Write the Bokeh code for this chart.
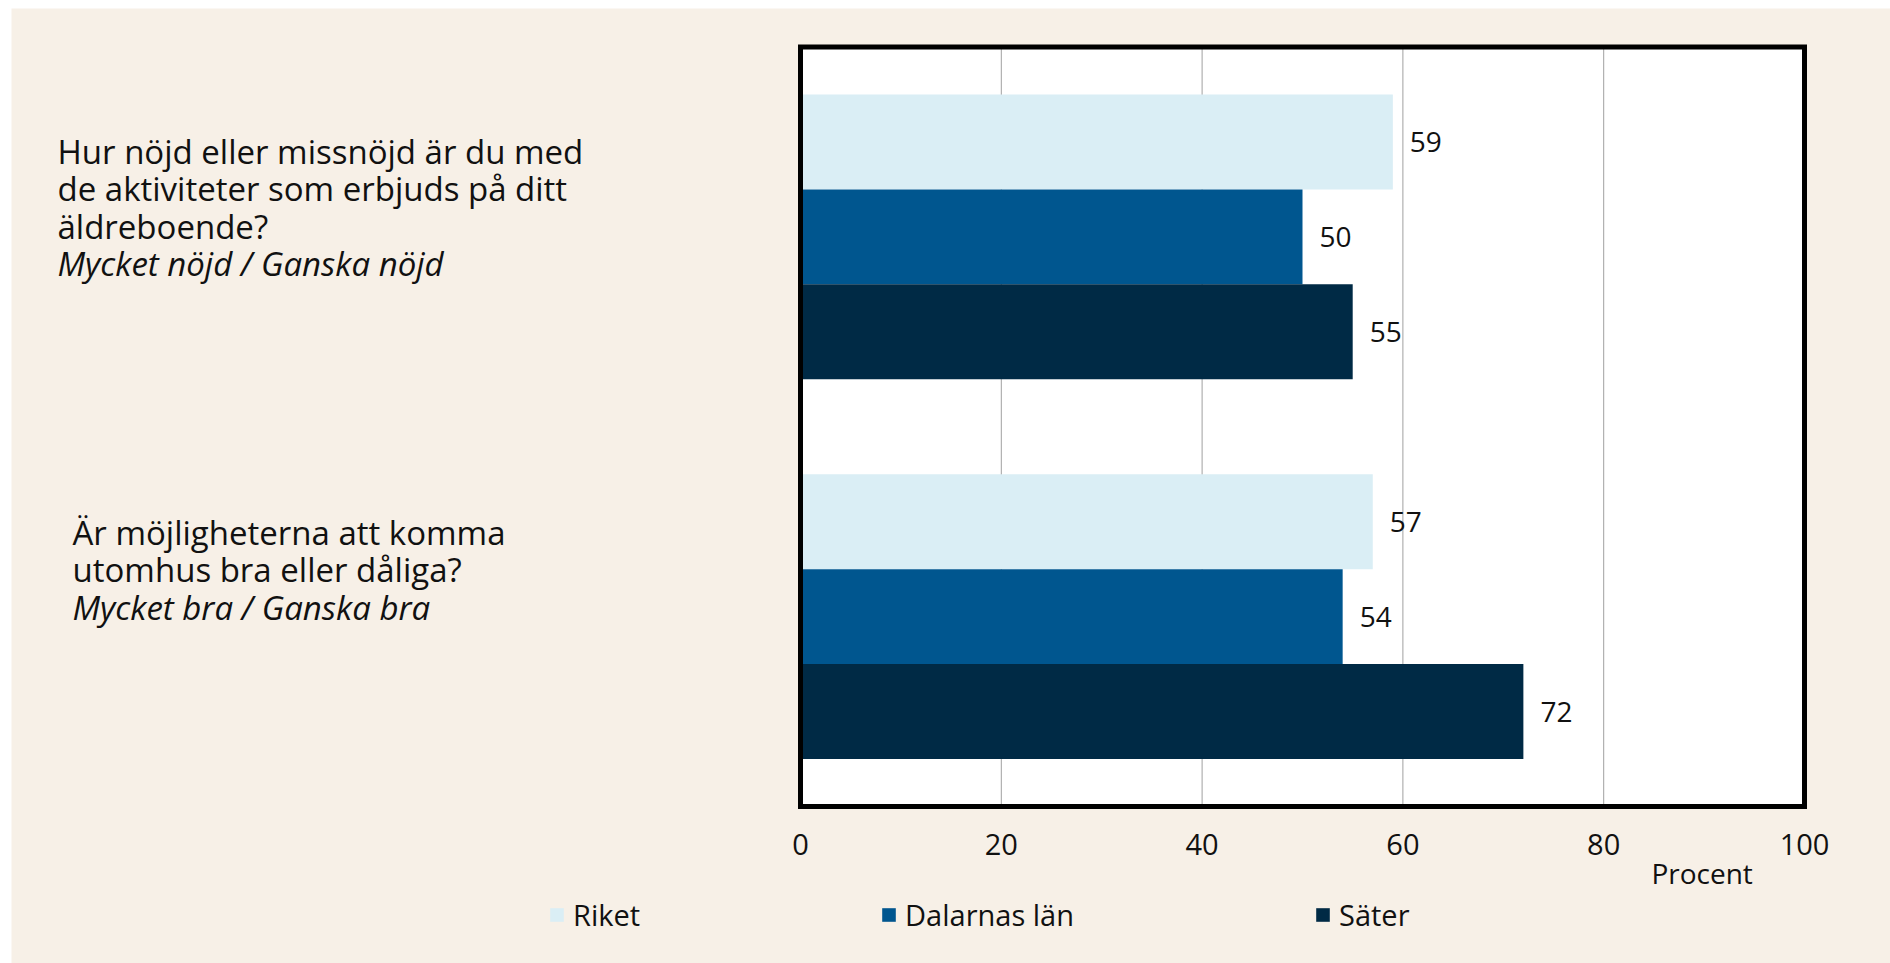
from bokeh.plotting import figure
from bokeh.models import Range1d, Legend, LegendItem, ColumnDataSource
from bokeh.transform import dodge
from bokeh.embed import file_html
from bokeh.resources import INLINE
from bokeh.core.properties import value

# ---- data ----
question_lines = [
    ["Hur nöjd eller missnöjd är du med", "de aktiviteter som erbjuds på ditt", "äldreboende?"],
    ["Är möjligheterna att komma", "utomhus bra eller dåliga?"],
]
question_answers = ["Mycket nöjd / Ganska nöjd", "Mycket bra / Ganska bra"]
series_names = ["Riket", "Dalarnas län", "Säter"]
riket = [59, 57]
dalarna = [50, 54]
sater = [55, 72]
x_ticks = [0, 20, 40, 60, 80, 100]
x_tick_labels = ["0", "20", "40", "60", "80", "100"]
x_title = "Procent"

colors = ["#DAEEF5", "#00568F", "#002A45"]
BG = "#F7F0E7"
FONT = "Open Sans"
TXT = "#111111"

# ---- layout (pixels inside the figure) ----
W, H = 1890, 963
PL, PR, PT, PB = 800, 1804, 46.5, 806   # inner plot box edges (figure pixels)
BGL, BGT = 11, 8                        # beige panel top-left corner
ppx = (PR - PL) / 100.0               # px per x unit
ppy = (PB - PT) / 2.0                 # px per y unit

def dx(px):  # horizontal pixel offset -> data units
    return px / ppx

def dy(px):  # downward pixel offset -> data units
    return -px / ppy

x0, x1 = -PL / ppx, 100 + (W - PR) / ppx
y0, y1 = -(H - PB) / ppy, 2 + PT / ppy

p = figure(width=W, height=H, output_backend="svg", toolbar_location=None,
           x_axis_type=None, y_axis_type=None,
           x_range=Range1d(x0, x1), y_range=Range1d(y0, y1),
           min_border=0)
p.border_fill_color = "white"
p.background_fill_color = "white"
p.outline_line_color = None
p.xgrid.visible = False
p.ygrid.visible = False

# beige panel
p.quad(left=[x0 + dx(BGL)], right=[x1 + 1], bottom=[y0 - 1], top=[y1 + dy(BGT)],
       fill_color=BG, line_color=None)
# white plot area
p.quad(left=[x_ticks[0]], right=[x_ticks[-1]], bottom=[0], top=[2],
       fill_color="white", line_color=None)
# vertical grid lines
p.segment(x0=x_ticks[1:-1], x1=x_ticks[1:-1], y0=0, y1=2, line_color="#a0a0a0", line_width=1)

ypos = [1.5, 0.5]
src = ColumnDataSource(dict(y=ypos, riket=riket, dalarna=dalarna, sater=sater,
                            riket_t=[str(v) for v in riket],
                            dalarna_t=[str(v) for v in dalarna],
                            sater_t=[str(v) for v in sater]))
offsets = [0.25, 0.0, -0.25]
fields = ["riket", "dalarna", "sater"]
renderers = []
for f, off, c in zip(fields, offsets, colors):
    r = p.hbar(y=dodge("y", off), right=f, left=0, height=0.25, source=src,
               fill_color=c, line_color=None)
    renderers.append(r)
    p.text(x=f, y=dodge("y", off), text=f + "_t", source=src, x_offset=17,
           text_baseline="middle", text_align="left", text_font=value(FONT),
           text_font_size="28px", text_color=TXT)

# frame outline
p.quad(left=[x_ticks[0]], right=[x_ticks[-1]], bottom=[0], top=[2],
       fill_color=None, line_color="black", line_width=5, line_join="miter")

# x tick labels
p.text(x=x_ticks, y=[dy(38)] * len(x_ticks), text=x_tick_labels,
       text_align="center", text_baseline="middle", text_font=value(FONT),
       text_font_size="29px", text_color=TXT)
# axis title
p.text(x=[89.8], y=[dy(66)], text=[x_title], text_align="center", text_baseline="middle",
       text_font=value(FONT), text_font_size="28px", text_color=TXT)

# question texts (left)
text_x = [dx(-743), dx(-728)]
line_h = 37.5
first_off = [-85.5, -84.5]
for qi in range(2):
    lines = question_lines[qi] + [question_answers[qi]]
    ys = [ypos[qi] + dy(first_off[qi] + li * line_h) for li in range(len(lines))]
    n = len(lines) - 1
    p.text(x=[text_x[qi]] * n, y=ys[:n], text=lines[:n], text_align="left",
           text_baseline="middle", text_font=value(FONT), text_font_size="33px",
           text_color=TXT)
    p.text(x=[text_x[qi]], y=[ys[n]], text=[lines[n]], text_align="left",
           text_baseline="middle", text_font=value(FONT), text_font_size="33px",
           text_font_style="italic", text_color=TXT)

legend = Legend(items=[LegendItem(label=n, renderers=[r]) for n, r in zip(series_names, renderers)],
                orientation="horizontal", location=(548, 29),
                background_fill_alpha=0, border_line_color=None,
                label_text_font=FONT, label_text_font_size="29px", label_text_color=TXT,
                glyph_width=17, glyph_height=17, label_standoff=8, spacing=240,
                padding=0, margin=0)
p.add_layout(legend)

open("out.html", "w").write(file_html(p, INLINE))
